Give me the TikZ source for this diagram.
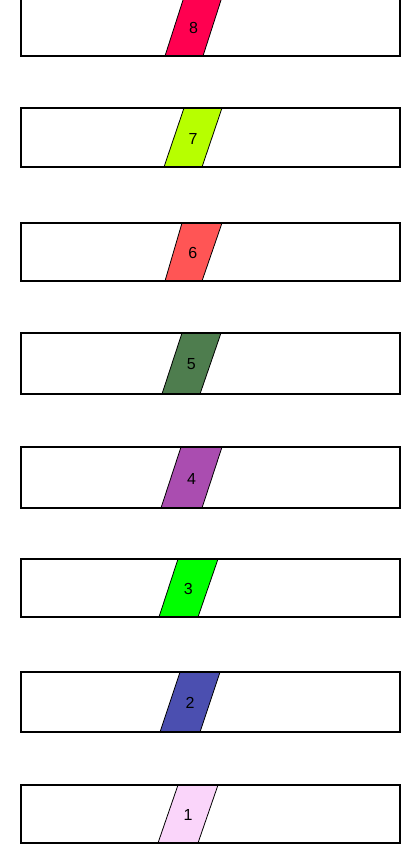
\documentclass[tikz,border=0pt]{standalone}
\usepackage{fontspec}
\setmainfont{Liberation Sans}
\definecolor{c1}{HTML}{FAD5FA}
\definecolor{c2}{HTML}{4B4FB0}
\definecolor{c3}{HTML}{00FF00}
\definecolor{c4}{HTML}{AA4DB0}
\definecolor{c5}{HTML}{4E7D4E}
\definecolor{c6}{HTML}{FF5555}
\definecolor{c7}{HTML}{B7FF00}
\definecolor{c8}{HTML}{FF0050}
\tikzset{
  band/.style={draw=black, line width=2pt},
  slab/.style={draw=black, line width=0.8pt},
  numlabel/.style={font=\fontsize{16}{18}\selectfont, text=black, inner sep=0pt}
}
\begin{document}
\begin{tikzpicture}[x=1pt,y=-1pt]
\useasboundingbox (0,0) rectangle (401,845);
\clip (0,0) rectangle (401,845);
% idx/top/bottom/bl/br/tl/tr
\foreach \i/\t/\b/\bl/\br/\tl/\tr in {
  8/-3/56/165/203/184/222,
  7/108/167/164/202/184/222,
  6/223/281/165/202/182/222,
  5/333/394/162/200/182/221,
  4/447/508/161/202/181/222,
  3/559/617/159/198/178/218,
  2/672/732/160/200/180/220,
  1/785/843/158/198/178/218}{
  \draw[slab, fill=c\i] (\bl,\b) -- (\br,\b) -- (\tr,\t) -- (\tl,\t) -- cycle;
  \draw[band] (21,\t) rectangle (400,\b);
  \node[numlabel] (l\i) at ({(\bl+\br+\tl+\tr)/4},{(\t+\b)/2+1}) {\i};
}
\end{tikzpicture}
\end{document}
